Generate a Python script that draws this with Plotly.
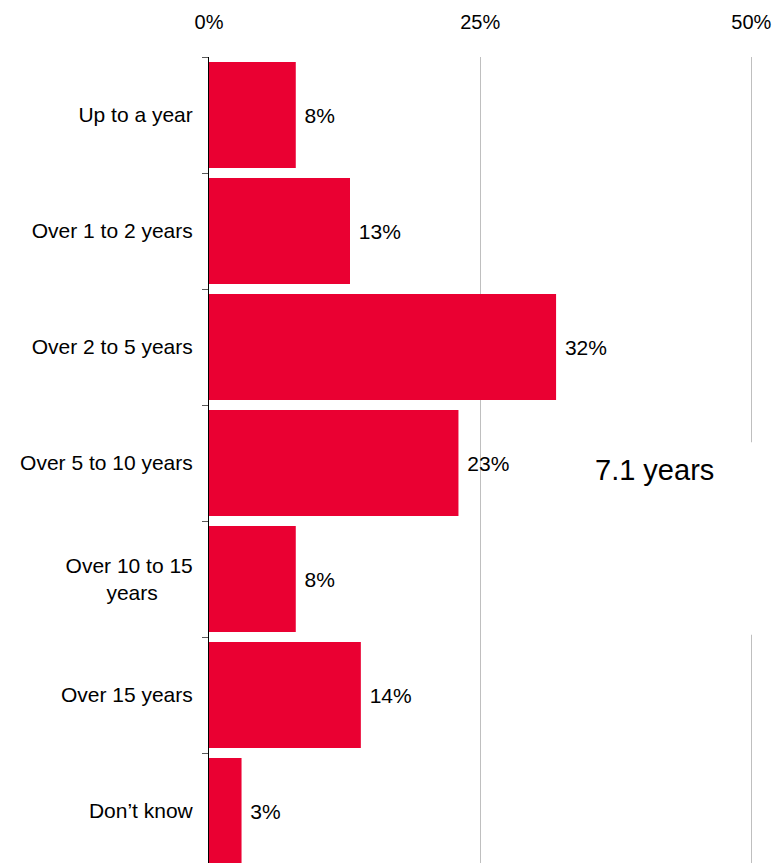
import plotly.graph_objects as go

categories = ["Up to a year", "Over 1 to 2 years", "Over 2 to 5 years", "Over 5 to 10 years",
              "Over 10 to 15<br>years" + "\u00a0" * 6, "Over 15 years", "Don\u2019t know"]
values = [8, 13, 32, 23, 8, 14, 3]
value_labels = ["8%", "13%", "32%", "23%", "8%", "14%", "3%"]
x_tick_vals = [0, 25, 50]
x_tick_text = ["0%", "25%", "50%"]
note_text = "7.1 years"

FONT = "Arial, 'Liberation Sans', sans-serif"
RED = "#EA0032"

fig = go.Figure()
fig.add_trace(go.Bar(
    x=values, y=list(range(len(categories))), orientation="h",
    marker=dict(color=RED, line=dict(width=0)),
    width=0.914,
    text=["\u00a0" + t for t in value_labels], textposition="outside",
    textfont=dict(family=FONT, size=21, color="#000000"),
    cliponaxis=False, constraintext="none",
    hoverinfo="skip",
))

fig.update_layout(
    width=774, height=863,
    margin=dict(l=209, r=1, t=57, b=0, autoexpand=False),
    paper_bgcolor="white", plot_bgcolor="white",
    showlegend=False,
    font=dict(family=FONT, color="#000000"),
    xaxis=dict(
        side="top", range=[0, 52], tickvals=x_tick_vals, ticktext=x_tick_text,
        showgrid=True, gridcolor="#BFBFBF", gridwidth=1, zeroline=False,
        showline=False, ticks="", tickfont=dict(size=20, family=FONT),
        ticklabelstandoff=23, automargin=False,
    ),
    yaxis=dict(
        range=[6.448, -0.5], tickvals=list(range(len(categories))), ticktext=categories,
        showgrid=False, zeroline=False, showline=True, linecolor="#000000", linewidth=1,
        tickfont=dict(size=21, family=FONT),
        ticklabelstandoff=11, automargin=False,
    ),
)

# tick marks at category boundaries
fig.update_yaxes(minor=dict(tickvals=[i - 0.5 for i in range(len(categories) + 1)],
                            ticks="outside", ticklen=6, tickcolor="#595959", tickwidth=1),
                 ticks="")

# white box covering the gridline, with the average annotation
fig.add_shape(type="rect", xref="x", yref="y", x0=33, x1=53, y0=2.82, y1=4.48,
              fillcolor="white", line=dict(width=0), layer="above")
fig.add_annotation(xref="x", yref="y", x=41.1, y=3.06, text=note_text, showarrow=False,
                   font=dict(family=FONT, size=29, color="#000000"))

fig.write_html("out.html", config={"displayModeBar": False},
               post_script="document.body.style.margin='0';document.body.style.overflow='hidden';")
